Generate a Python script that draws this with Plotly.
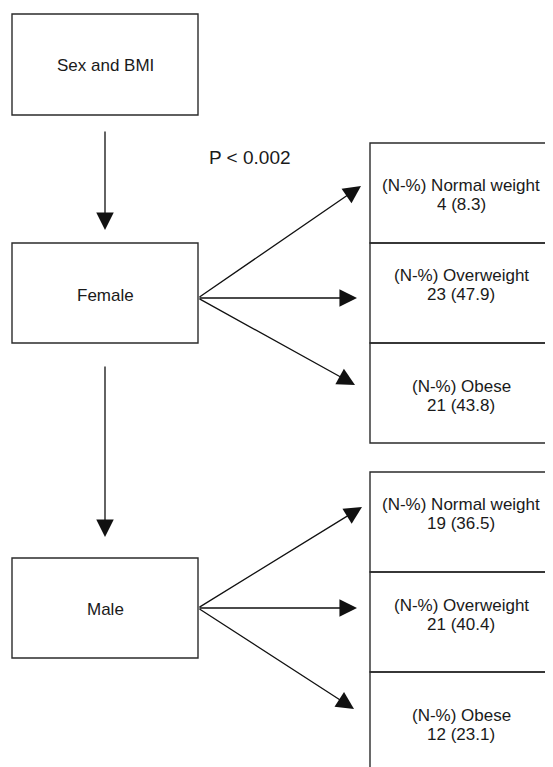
import plotly.graph_objects as go

# ---- data ----
root_label = "Sex and BMI"
p_label = "P < 0.002"
groups = ["Female", "Male"]
categories = ["Normal weight", "Overweight", "Obese"]
female_n = [4, 23, 21]
female_pct = [8.3, 47.9, 43.8]
male_n = [19, 21, 12]
male_pct = [36.5, 40.4, 23.1]
prefix = "(N-%)"

group_counts = [female_n, male_n]
group_pcts = [female_pct, male_pct]

# ---- layout geometry (page pixel coordinates) ----
W, H = 553, 767
PAGE_OFF = 8  # default body margin of the html page
FONT = "Liberation Sans, Arial, Helvetica, sans-serif"
LINE = "#2b2b2b"
TXT = "#1a1a1a"

left_x0, left_x1 = 12, 198
left_cx = 105
root_box = (14, 115)
group_boxes = [(243, 343), (558, 658)]
group_text_y = [295, 609]
arrow_origin_y = [298, 608]

right_x0, right_x1 = 370, 600
right_cx = 461
right_tops = [143, 472]
box_h = 100
text_offsets = [[42, 32, 43], [32, 33, 43]]
tip_pts = [[(361, 186), (357, 298), (355, 385)],
           [(362, 507), (357, 608), (354, 709)]]

shapes = []
annotations = []


def rect(x0, y0, x1, y1):
    shapes.append(dict(type="rect", xref="x", yref="y", x0=x0, y0=y0, x1=x1, y1=y1,
                       line=dict(color=LINE, width=1.4), fillcolor="rgba(0,0,0,0)"))


def label(x, y, text, size=17):
    annotations.append(dict(x=x, y=y, xref="x", yref="y", text=text, showarrow=False,
                            font=dict(family=FONT, size=size, color=TXT),
                            xanchor="center", yanchor="middle"))


def arrow(x0, y0, x1, y1):
    annotations.append(dict(x=x1, y=y1, ax=x0, ay=y0, xref="x", yref="y",
                            axref="x", ayref="y", text="", showarrow=True,
                            arrowhead=2, arrowsize=2.7, arrowwidth=1.3,
                            arrowcolor="#111111", standoff=0, startstandoff=0,
                            font=dict(size=1)))


# root box
rect(left_x0, root_box[0], left_x1, root_box[1])
label(left_cx, (root_box[0] + root_box[1]) / 2 + 1, root_label)

# vertical arrows
arrow(left_cx, 130, left_cx, 230)
arrow(left_cx, 365, left_cx, 537)

# P label
label(250, 157, p_label, size=19)

for g, name in enumerate(groups):
    y0, y1 = group_boxes[g]
    rect(left_x0, y0, left_x1, y1)
    label(left_cx, group_text_y[g], name)
    for c, cat in enumerate(categories):
        top = right_tops[g] + c * box_h
        rect(right_x0, top, right_x1, top + box_h)
        ty = top + text_offsets[g][c]
        label(right_cx, ty, f"{prefix} {cat}")
        label(right_cx, ty + 19, f"{group_counts[g][c]} ({group_pcts[g][c]})")
        tx, tyy = tip_pts[g][c]
        arrow(left_x1, arrow_origin_y[g], tx, tyy)

fig = go.Figure()
fig.update_layout(
    width=W - PAGE_OFF, height=H - PAGE_OFF,
    margin=dict(l=0, r=0, t=0, b=0),
    paper_bgcolor="white", plot_bgcolor="white",
    xaxis=dict(range=[PAGE_OFF, W], visible=False, fixedrange=True),
    yaxis=dict(range=[H, PAGE_OFF], visible=False, fixedrange=True),
    shapes=shapes, annotations=annotations, showlegend=False,
)
fig.write_html("out.html", config={"displayModeBar": False})
